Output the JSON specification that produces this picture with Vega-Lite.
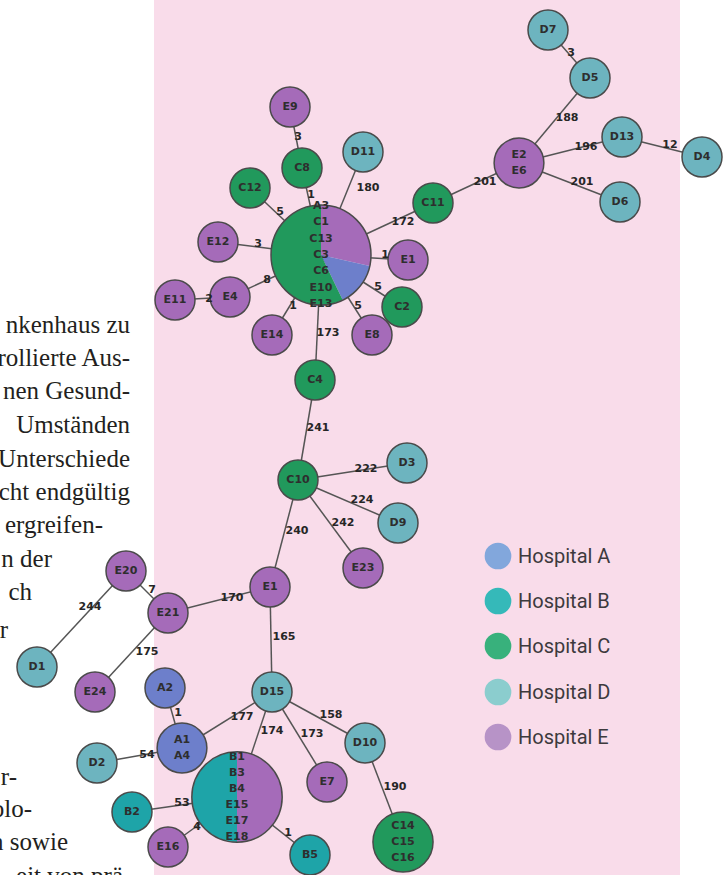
{
  "$schema": "https://vega.github.io/schema/vega-lite/v6.json",
  "width": 526,
  "height": 875,
  "autosize": {"type": "none"},
  "padding": {"left": 154, "right": 48, "top": 0, "bottom": 0},
  "background": "#ffffff",
  "config": {"view": {"stroke": null}},
  "datasets": {
    "nodes": [
      {"id": "D7", "label": "D7", "hospital": "Hospital D", "n": 1, "x": 548, "y": 30},
      {"id": "D5", "label": "D5", "hospital": "Hospital D", "n": 1, "x": 590, "y": 78},
      {"id": "E2", "label": "E2\nE6", "hospital": "Hospital E", "n": 2, "x": 519, "y": 163},
      {"id": "D13", "label": "D13", "hospital": "Hospital D", "n": 1, "x": 622, "y": 137},
      {"id": "D4", "label": "D4", "hospital": "Hospital D", "n": 1, "x": 702, "y": 157},
      {"id": "D6", "label": "D6", "hospital": "Hospital D", "n": 1, "x": 620, "y": 202},
      {"id": "C11", "label": "C11", "hospital": "Hospital C", "n": 1, "x": 433, "y": 203},
      {"id": "E9", "label": "E9", "hospital": "Hospital E", "n": 1, "x": 290, "y": 107},
      {"id": "C8", "label": "C8", "hospital": "Hospital C", "n": 1, "x": 302, "y": 168},
      {"id": "D11", "label": "D11", "hospital": "Hospital D", "n": 1, "x": 363, "y": 152},
      {"id": "C12", "label": "C12", "hospital": "Hospital C", "n": 1, "x": 250, "y": 188},
      {"id": "P1", "label": "A3\nC1\nC13\nC3\nC6\nE10\nE13", "n": 7, "x": 321, "y": 255},
      {"id": "E12", "label": "E12", "hospital": "Hospital E", "n": 1, "x": 218, "y": 242},
      {"id": "E4", "label": "E4", "hospital": "Hospital E", "n": 1, "x": 230, "y": 297},
      {"id": "E11", "label": "E11", "hospital": "Hospital E", "n": 1, "x": 175, "y": 300},
      {"id": "E14", "label": "E14", "hospital": "Hospital E", "n": 1, "x": 272, "y": 335},
      {"id": "E8", "label": "E8", "hospital": "Hospital E", "n": 1, "x": 372, "y": 335},
      {"id": "C2", "label": "C2", "hospital": "Hospital C", "n": 1, "x": 402, "y": 307},
      {"id": "E1a", "label": "E1", "hospital": "Hospital E", "n": 1, "x": 408, "y": 260},
      {"id": "C4", "label": "C4", "hospital": "Hospital C", "n": 1, "x": 315, "y": 380},
      {"id": "C10", "label": "C10", "hospital": "Hospital C", "n": 1, "x": 298, "y": 480},
      {"id": "D3", "label": "D3", "hospital": "Hospital D", "n": 1, "x": 407, "y": 463},
      {"id": "D9", "label": "D9", "hospital": "Hospital D", "n": 1, "x": 398, "y": 523},
      {"id": "E23", "label": "E23", "hospital": "Hospital E", "n": 1, "x": 363, "y": 568},
      {"id": "E1", "label": "E1", "hospital": "Hospital E", "n": 1, "x": 270, "y": 587},
      {"id": "E20", "label": "E20", "hospital": "Hospital E", "n": 1, "x": 126, "y": 571},
      {"id": "E21", "label": "E21", "hospital": "Hospital E", "n": 1, "x": 168, "y": 613},
      {"id": "D1", "label": "D1", "hospital": "Hospital D", "n": 1, "x": 37, "y": 667},
      {"id": "E24", "label": "E24", "hospital": "Hospital E", "n": 1, "x": 95, "y": 692},
      {"id": "A2", "label": "A2", "hospital": "Hospital A", "n": 1, "x": 165, "y": 688},
      {"id": "D15", "label": "D15", "hospital": "Hospital D", "n": 1, "x": 272, "y": 692},
      {"id": "A1", "label": "A1\nA4", "hospital": "Hospital A", "n": 2, "x": 182, "y": 748},
      {"id": "D10", "label": "D10", "hospital": "Hospital D", "n": 1, "x": 365, "y": 743},
      {"id": "E7", "label": "E7", "hospital": "Hospital E", "n": 1, "x": 327, "y": 782},
      {"id": "P2", "label": "B1\nB3\nB4\nE15\nE17\nE18", "n": 6, "x": 237, "y": 797},
      {"id": "C14", "label": "C14\nC15\nC16", "hospital": "Hospital C", "n": 3, "x": 403, "y": 842},
      {"id": "D2", "label": "D2", "hospital": "Hospital D", "n": 1, "x": 97, "y": 763},
      {"id": "B2", "label": "B2", "hospital": "Hospital B", "n": 1, "x": 132, "y": 812},
      {"id": "E16", "label": "E16", "hospital": "Hospital E", "n": 1, "x": 168, "y": 847},
      {"id": "B5", "label": "B5", "hospital": "Hospital B", "n": 1, "x": 310, "y": 855}
    ],
    "slices": [
      {"id": "P1", "part": "Hospital E", "t0": 0, "t1": 0.2857},
      {"id": "P1", "part": "Hospital A", "t0": 0.2857, "t1": 0.4286},
      {"id": "P1", "part": "Hospital C", "t0": 0.4286, "t1": 1},
      {"id": "P2", "part": "Hospital E", "t0": 0, "t1": 0.5},
      {"id": "P2", "part": "Hospital B", "t0": 0.5, "t1": 1}
    ],
    "key": [
      {"name": "Hospital A", "x": 498, "y": 556},
      {"name": "Hospital B", "x": 498, "y": 601},
      {"name": "Hospital C", "x": 498, "y": 646},
      {"name": "Hospital D", "x": 498, "y": 692},
      {"name": "Hospital E", "x": 498, "y": 737}
    ],
    "edges": [
      {"s": "D7", "t": "D5", "w": "3", "lx": 571, "ly": 53},
      {"s": "D5", "t": "E2", "w": "188", "lx": 567, "ly": 118},
      {"s": "E2", "t": "D13", "w": "196", "lx": 586, "ly": 147},
      {"s": "D13", "t": "D4", "w": "12", "lx": 670, "ly": 145},
      {"s": "E2", "t": "D6", "w": "201", "lx": 582, "ly": 182},
      {"s": "C11", "t": "E2", "w": "201", "lx": 485, "ly": 182},
      {"s": "P1", "t": "C11", "w": "172", "lx": 403, "ly": 222},
      {"s": "E9", "t": "C8", "w": "3", "lx": 298, "ly": 137},
      {"s": "C8", "t": "P1", "w": "1", "lx": 311, "ly": 195},
      {"s": "D11", "t": "P1", "w": "180", "lx": 368, "ly": 188},
      {"s": "C12", "t": "P1", "w": "5", "lx": 280, "ly": 212},
      {"s": "E12", "t": "P1", "w": "3", "lx": 258, "ly": 244},
      {"s": "E4", "t": "P1", "w": "8", "lx": 267, "ly": 280},
      {"s": "E11", "t": "E4", "w": "2", "lx": 209, "ly": 299},
      {"s": "E14", "t": "P1", "w": "1", "lx": 293, "ly": 306},
      {"s": "P1", "t": "C4", "w": "173", "lx": 328, "ly": 333},
      {"s": "E8", "t": "P1", "w": "5", "lx": 358, "ly": 306},
      {"s": "C2", "t": "P1", "w": "5", "lx": 378, "ly": 287},
      {"s": "E1a", "t": "P1", "w": "1", "lx": 385, "ly": 255},
      {"s": "C4", "t": "C10", "w": "241", "lx": 318, "ly": 428},
      {"s": "C10", "t": "D3", "w": "222", "lx": 366, "ly": 469},
      {"s": "C10", "t": "D9", "w": "224", "lx": 362, "ly": 500},
      {"s": "C10", "t": "E23", "w": "242", "lx": 343, "ly": 523},
      {"s": "C10", "t": "E1", "w": "240", "lx": 297, "ly": 531},
      {"s": "E20", "t": "E21", "w": "7", "lx": 152, "ly": 590},
      {"s": "E21", "t": "E1", "w": "170", "lx": 232, "ly": 598},
      {"s": "E20", "t": "D1", "w": "244", "lx": 90, "ly": 607},
      {"s": "E21", "t": "E24", "w": "175", "lx": 147, "ly": 652},
      {"s": "E1", "t": "D15", "w": "165", "lx": 284, "ly": 637},
      {"s": "A2", "t": "A1", "w": "1", "lx": 178, "ly": 713},
      {"s": "D15", "t": "A1", "w": "177", "lx": 242, "ly": 717},
      {"s": "D15", "t": "P2", "w": "174", "lx": 272, "ly": 731},
      {"s": "D15", "t": "E7", "w": "173", "lx": 312, "ly": 734},
      {"s": "D15", "t": "D10", "w": "158", "lx": 331, "ly": 715},
      {"s": "D10", "t": "C14", "w": "190", "lx": 395, "ly": 787},
      {"s": "D2", "t": "A1", "w": "54", "lx": 147, "ly": 755},
      {"s": "B2", "t": "P2", "w": "53", "lx": 182, "ly": 803},
      {"s": "E16", "t": "P2", "w": "4", "lx": 197, "ly": 827},
      {"s": "P2", "t": "B5", "w": "1", "lx": 288, "ly": 833}
    ],
    "body": [
      {"t": "nkenhaus zu", "x": 130, "y": 325},
      {"t": "rollierte Aus-", "x": 130, "y": 358},
      {"t": "nen Gesund-", "x": 130, "y": 391},
      {"t": "Umständen", "x": 130, "y": 425},
      {"t": "Unterschiede", "x": 130, "y": 459},
      {"t": "cht endgültig", "x": 130, "y": 492},
      {"t": "ergreifen-", "x": 103, "y": 525},
      {"t": "n der", "x": 52, "y": 559},
      {"t": "ch", "x": 32, "y": 592},
      {"t": "r", "x": 8, "y": 630},
      {"t": "r-", "x": 17, "y": 777},
      {"t": "olo-", "x": 32, "y": 809},
      {"t": "n sowie", "x": 68, "y": 842},
      {"t": "eit von prä", "x": 123, "y": 876}
    ]
  },
  "layer": [
    {
      "data": {"values": [{"panel": "graph"}]},
      "mark": {"type": "rect", "color": "#f9dcea"},
      "encoding": {}
    },
    {
      "data": {"name": "body"},
      "mark": {"type": "text", "font": "Liberation Serif", "fontSize": 25, "align": "right", "baseline": "middle", "color": "#231f20"},
      "encoding": {
        "x": {"field": "x", "type": "quantitative", "scale": {"domain": [154, 680], "nice": false, "zero": false}, "axis": null},
        "y": {"field": "y", "type": "quantitative", "scale": {"domain": [0, 875], "reverse": true, "nice": false, "zero": false}, "axis": null},
        "text": {"field": "t"}
      }
    },
    {
      "data": {"name": "edges"},
      "transform": [
        {"lookup": "s", "from": {"data": {"name": "nodes"}, "key": "id", "fields": ["x", "y"]}, "as": ["sx", "sy"]},
        {"lookup": "t", "from": {"data": {"name": "nodes"}, "key": "id", "fields": ["x", "y"]}, "as": ["tx", "ty"]}
      ],
      "mark": {"type": "rule", "color": "#555555", "strokeWidth": 1.5},
      "encoding": {
        "x": {"field": "sx", "type": "quantitative"},
        "y": {"field": "sy", "type": "quantitative"},
        "x2": {"field": "tx"},
        "y2": {"field": "ty"}
      }
    },
    {
      "data": {"name": "nodes"},
      "transform": [{"filter": "isValid(datum.hospital)"}],
      "mark": {"type": "circle", "opacity": 1, "strokeWidth": 0},
      "encoding": {
        "x": {"field": "x", "type": "quantitative"},
        "y": {"field": "y", "type": "quantitative"},
        "size": {"field": "n", "type": "quantitative", "legend": null, "scale": {"type": "pow", "exponent": 1.5, "domain": [1, 7], "range": [1600, 10000], "zero": false}},
        "fill": {
          "field": "hospital", "type": "nominal", "legend": null,
          "scale": {"domain": ["Hospital A", "Hospital B", "Hospital C", "Hospital D", "Hospital E"], "range": ["#6d7fcb", "#1ea4a8", "#21995c", "#6db4bf", "#a56bb9"]}
        }
      }
    },
    {
      "data": {"name": "slices"},
      "transform": [
        {"lookup": "id", "from": {"data": {"name": "nodes"}, "key": "id", "fields": ["x", "y", "n"]}}
      ],
      "mark": {"type": "arc", "radius2": 0, "strokeWidth": 0},
      "encoding": {
        "x": {"field": "x", "type": "quantitative"},
        "y": {"field": "y", "type": "quantitative"},
        "theta": {"field": "t0", "type": "quantitative", "stack": null, "scale": {"domain": [0, 1]}},
        "theta2": {"field": "t1"},
        "radius": {"field": "n", "type": "quantitative", "scale": {"type": "linear", "domain": [1, 7], "range": [20, 50], "zero": false}},
        "fill": {"field": "part", "type": "nominal", "legend": null, "scale": {"domain": ["Hospital A", "Hospital B", "Hospital C", "Hospital D", "Hospital E"], "range": ["#6d7fcb", "#1ea4a8", "#21995c", "#6db4bf", "#a56bb9"]}}
      }
    },
    {
      "data": {"name": "nodes"},
      "mark": {"type": "circle", "filled": false, "stroke": "#4a4a4a", "strokeWidth": 1.5, "opacity": 1},
      "encoding": {
        "x": {"field": "x", "type": "quantitative"},
        "y": {"field": "y", "type": "quantitative"},
        "size": {"field": "n", "type": "quantitative", "legend": null}
      }
    },
    {
      "data": {"name": "edges"},
      "mark": {"type": "text", "font": "DejaVu Sans", "fontWeight": "bold", "fontSize": 11, "color": "#262626", "baseline": "middle"},
      "encoding": {
        "x": {"field": "lx", "type": "quantitative"},
        "y": {"field": "ly", "type": "quantitative"},
        "text": {"field": "w"}
      }
    },
    {
      "data": {"name": "nodes"},
      "transform": [{"filter": "datum.n == 1"}],
      "mark": {"type": "text", "font": "DejaVu Sans", "fontWeight": "bold", "fontSize": 11, "color": "#2e2e2e", "baseline": "middle"},
      "encoding": {
        "x": {"field": "x", "type": "quantitative"},
        "y": {"field": "y", "type": "quantitative"},
        "text": {"field": "label"}
      }
    },
    {
      "data": {"name": "nodes"},
      "transform": [{"filter": "datum.n == 2"}],
      "mark": {"type": "text", "font": "DejaVu Sans", "fontWeight": "bold", "fontSize": 11, "color": "#2e2e2e", "baseline": "middle", "lineBreak": "\n", "lineHeight": 16, "dy": -8},
      "encoding": {
        "x": {"field": "x", "type": "quantitative"},
        "y": {"field": "y", "type": "quantitative"},
        "text": {"field": "label"}
      }
    },
    {
      "data": {"name": "nodes"},
      "transform": [{"filter": "datum.n == 3"}],
      "mark": {"type": "text", "font": "DejaVu Sans", "fontWeight": "bold", "fontSize": 11, "color": "#2e2e2e", "baseline": "middle", "lineBreak": "\n", "lineHeight": 16, "dy": -16},
      "encoding": {
        "x": {"field": "x", "type": "quantitative"},
        "y": {"field": "y", "type": "quantitative"},
        "text": {"field": "label"}
      }
    },
    {
      "data": {"name": "nodes"},
      "transform": [{"filter": "datum.n == 6"}],
      "mark": {"type": "text", "font": "DejaVu Sans", "fontWeight": "bold", "fontSize": 11, "color": "#2e2e2e", "baseline": "middle", "lineBreak": "\n", "lineHeight": 16, "dy": -40},
      "encoding": {
        "x": {"field": "x", "type": "quantitative"},
        "y": {"field": "y", "type": "quantitative"},
        "text": {"field": "label"}
      }
    },
    {
      "data": {"name": "nodes"},
      "transform": [{"filter": "datum.n == 7"}],
      "mark": {"type": "text", "font": "DejaVu Sans", "fontWeight": "bold", "fontSize": 11, "color": "#2e2e2e", "baseline": "middle", "lineBreak": "\n", "lineHeight": 16.3, "dy": -49},
      "encoding": {
        "x": {"field": "x", "type": "quantitative"},
        "y": {"field": "y", "type": "quantitative"},
        "text": {"field": "label"}
      }
    },
    {
      "data": {"name": "key"},
      "mark": {"type": "circle", "size": 713, "opacity": 1, "strokeWidth": 0},
      "encoding": {
        "x": {"field": "x", "type": "quantitative"},
        "y": {"field": "y", "type": "quantitative"},
        "color": {
          "field": "name", "type": "nominal", "legend": null,
          "scale": {"domain": ["Hospital A", "Hospital B", "Hospital C", "Hospital D", "Hospital E"], "range": ["#82a7dc", "#35b9b9", "#38b17c", "#8bcdce", "#b793c7"]}
        }
      }
    },
    {
      "data": {"name": "key"},
      "mark": {"type": "text", "font": "Roboto", "fontSize": 20, "color": "#3d3a3d", "align": "left", "baseline": "middle", "dx": 20, "dy": 1},
      "encoding": {
        "x": {"field": "x", "type": "quantitative"},
        "y": {"field": "y", "type": "quantitative"},
        "text": {"field": "name"}
      }
    }
  ]
}
